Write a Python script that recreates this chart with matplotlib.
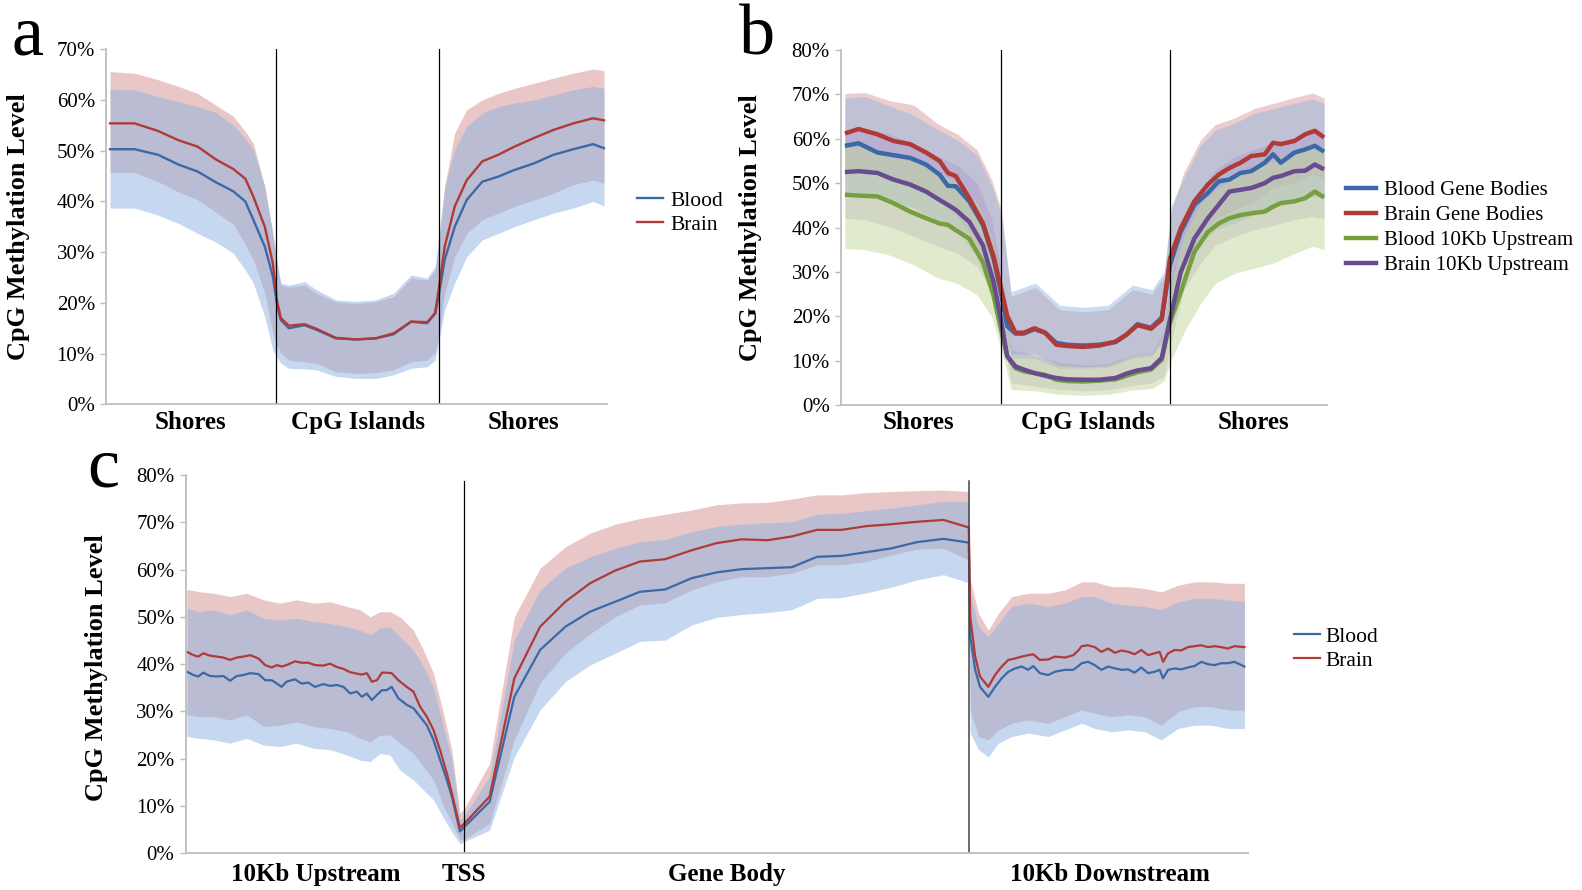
import numpy as np
import matplotlib
matplotlib.use('Agg')
import matplotlib.pyplot as plt
from matplotlib.lines import Line2D

plt.rcParams['font.family'] = ['Liberation Serif', 'DejaVu Serif']

# ---------------- panel a : shores / CpG islands (position = % of axis width)
pos_a = [0.8, 5.7, 10.4, 14.4, 18.3, 21.9, 25.4, 27.8, 29.4, 31.7, 33.3, 34.1, 34.9, 36.5,
         39.6, 42.0, 45.9, 49.9, 53.8, 57.4, 60.9, 64.1, 65.7, 66.5, 67.6, 69.6, 72.0,
         75.1, 78.3, 81.5, 85.4, 89.3, 93.3, 97.2, 99.4]
blood_a = [50.3, 50.3, 49.2, 47.3, 45.9, 43.8, 42.0, 40.0, 36.4, 31.1, 25.2, 19.9, 16.6, 15.0,
           15.6, 14.7, 13.0, 12.8, 13.0, 13.8, 16.3, 16.0, 17.9, 21.9, 28.5, 35.0, 40.3,
           43.9, 44.9, 46.2, 47.5, 49.2, 50.3, 51.3, 50.5]
brain_a = [55.4, 55.4, 53.9, 52.1, 50.8, 48.3, 46.4, 44.5, 41.0, 35.0, 27.8, 20.6, 17.0, 15.5,
           15.8, 14.9, 13.1, 12.8, 13.0, 14.0, 16.3, 16.2, 18.0, 23.2, 31.1, 39.0, 44.2,
           47.9, 49.2, 50.8, 52.5, 54.1, 55.4, 56.4, 56.0]
blood_a_lo = [38.7, 38.7, 37.3, 35.7, 33.7, 32.0, 29.8, 26.5, 23.9, 17.3, 10.7, 9.3, 8.1, 7.1,
              7.0, 6.8, 5.5, 5.1, 5.1, 5.8, 7.1, 7.4, 8.7, 12.7, 18.6, 23.9, 29.1,
              32.4, 33.7, 35.0, 36.4, 37.7, 38.7, 40.0, 39.1]
blood_a_hi = [62.1, 62.0, 60.7, 59.7, 58.7, 57.6, 55.0, 52.5, 50.2, 42.9, 33.7, 27.8, 23.9, 23.5,
              24.2, 22.6, 20.6, 20.3, 20.6, 21.9, 25.5, 24.9, 27.2, 33.7, 42.9, 50.2, 54.8,
              57.4, 58.7, 59.4, 60.0, 61.0, 62.0, 62.7, 62.3]
brain_a_lo = [45.7, 45.7, 43.9, 41.9, 40.3, 37.9, 35.5, 31.5, 28.5, 21.9, 14.0, 11.5, 10.1, 8.7,
              8.4, 8.1, 6.4, 6.1, 6.2, 6.8, 8.4, 8.7, 10.1, 14.0, 21.9, 29.1, 33.7,
              36.4, 37.7, 39.0, 40.3, 41.6, 43.3, 44.2, 43.6]
brain_a_hi = [65.6, 65.3, 64.0, 62.7, 61.3, 59.0, 56.8, 53.8, 51.5, 42.9, 33.7, 28.5, 23.5, 23.1,
              23.5, 21.9, 20.2, 19.9, 20.2, 21.2, 24.9, 24.5, 26.5, 32.4, 42.9, 53.5, 58.1,
              60.0, 61.3, 62.3, 63.3, 64.3, 65.3, 66.1, 65.8]
bounds_a = [33.9, 66.5]

# ---------------- panel b
pos_b = [0.8, 3.6, 7.5, 10.8, 14.2, 17.5, 20.3, 22.0, 23.6, 26.4, 29.2, 31.4, 32.9, 34.2,
         35.9, 37.6, 39.8, 42.0, 44.3, 46.5, 49.8, 53.2, 56.5, 58.8, 61.0, 63.8, 66.0,
         67.7, 69.9, 72.7, 75.5, 77.7, 79.9, 82.2, 84.4, 87.2, 88.9, 90.5, 93.3, 95.5,
         97.5, 99.4]
blood_gb = [58.4, 59.0, 56.9, 56.3, 55.7, 54.2, 51.9, 49.4, 49.3, 45.9, 40.6, 33.0, 25.4, 17.8,
            16.1, 16.1, 17.1, 16.3, 14.0, 13.6, 13.4, 13.6, 14.2, 15.9, 18.2, 17.4, 19.7,
            31.5, 39.0, 45.1, 47.8, 50.4, 50.8, 52.3, 52.7, 54.6, 56.5, 54.6, 56.9, 57.6,
            58.4, 57.1]
brain_gb = [61.2, 62.2, 61.0, 59.5, 58.8, 56.9, 55.0, 52.3, 51.6, 46.6, 41.0, 33.5, 26.5, 20.1,
            16.3, 16.3, 17.3, 16.3, 13.6, 13.3, 13.1, 13.4, 14.3, 15.9, 18.0, 17.2, 19.3,
            33.0, 39.8, 45.9, 49.7, 51.9, 53.4, 54.6, 56.1, 56.5, 59.1, 58.8, 59.5, 61.0,
            61.8, 60.3]
blood_up = [47.4, 47.2, 47.0, 45.5, 43.6, 42.1, 40.9, 40.6, 39.4, 37.5, 32.2, 24.6, 17.1, 11.0,
            8.3, 7.6, 7.2, 6.8, 5.7, 5.4, 5.3, 5.5, 5.8, 6.6, 7.4, 8.0, 10.2,
            18.6, 25.4, 34.5, 39.0, 40.9, 42.1, 42.8, 43.2, 43.6, 44.7, 45.5, 45.9, 46.6,
            48.1, 46.8]
brain_up = [52.5, 52.7, 52.3, 50.8, 49.7, 48.1, 46.2, 45.1, 44.0, 41.3, 36.0, 27.7, 19.3, 11.0,
            8.7, 8.0, 7.2, 6.6, 6.1, 5.8, 5.7, 5.7, 6.1, 7.1, 7.8, 8.3, 10.6,
            19.3, 29.9, 37.5, 42.1, 45.1, 48.1, 48.5, 48.9, 50.0, 51.2, 51.6, 52.7, 52.8,
            54.2, 53.1]
band_pos_b = [0.8, 5, 10, 15, 20, 24, 28, 31, 33, 35, 40, 45, 50, 55, 60, 64, 66.5, 68, 70.5,
              74, 77, 81, 85, 89, 93, 97, 99.4]
blood_gb_hi = [69.2, 69.5, 67.4, 65.3, 62.0, 59.7, 56.3, 49.5, 42.8, 25.5, 27.5, 22.5, 22.0, 22.5,
               27.0, 26.0, 30.0, 45.0, 51.0, 58.5, 61.9, 63.5, 65.7, 66.8, 67.9, 69.0, 68.0]
blood_gb_lo = [47.5, 47.5, 45.7, 44.5, 41.5, 39.0, 33.5, 25.0, 17.5, 10.5, 10.5, 8.3, 8.3, 8.5,
               10.5, 11.0, 14.5, 24.0, 31.0, 36.5, 39.5, 41.0, 43.0, 45.0, 46.0, 47.0, 46.5]
brain_gb_hi = [70.2, 70.4, 68.6, 67.6, 63.3, 61.0, 57.5, 50.8, 44.0, 24.5, 26.5, 21.5, 21.0, 21.5,
               26.0, 25.0, 29.0, 44.0, 52.3, 59.8, 63.2, 64.7, 66.8, 68.0, 69.2, 70.3, 69.2]
brain_gb_lo = [52.5, 53.0, 50.5, 49.5, 46.0, 42.5, 36.0, 27.0, 19.0, 11.5, 11.5, 8.8, 8.6, 8.8,
               11.0, 11.5, 15.0, 25.0, 32.0, 38.0, 42.0, 44.0, 46.0, 49.0, 50.0, 52.0, 51.0]
blood_up_hi = [58.3, 58.3, 56.0, 54.9, 52.3, 50.0, 45.5, 38.0, 27.4, 11.5, 11.0, 9.0, 8.6, 9.0,
               11.0, 11.5, 16.0, 27.4, 38.0, 45.5, 48.5, 51.5, 53.5, 55.0, 57.0, 58.5, 58.3]
blood_up_lo = [35.3, 35.0, 33.8, 31.6, 28.6, 27.4, 24.8, 19.9, 12.4, 3.5, 3.2, 2.4, 2.2, 2.4,
               3.4, 3.7, 5.5, 10.2, 16.2, 22.9, 27.4, 29.7, 30.8, 32.0, 34.0, 35.8, 35.0]
brain_up_hi = [62.0, 62.3, 61.0, 59.0, 56.0, 54.0, 50.0, 42.0, 30.0, 12.5, 11.2, 9.5, 9.0, 9.3,
               11.2, 11.8, 16.5, 30.0, 40.0, 48.5, 53.0, 56.0, 57.6, 59.0, 60.2, 61.7, 61.0]
brain_up_lo = [42.1, 41.7, 40.2, 38.0, 35.7, 34.2, 31.2, 25.9, 17.7, 5.0, 4.2, 3.5, 3.2, 3.4,
               4.4, 5.0, 6.5, 14.7, 25.9, 32.0, 36.0, 38.0, 39.5, 40.5, 41.7, 42.5, 42.0]
bounds_b = [32.9, 67.7]

# ---------------- panel c : upstream (kb), gene body (% of body), downstream (kb)
up_kb = [-9.96, -9.72, -9.55, -9.37, -9.13, -8.89, -8.65, -8.41, -8.17, -7.93, -7.69, -7.39,
         -7.15, -6.91, -6.73, -6.56, -6.38, -6.08, -5.84, -5.60, -5.36, -5.06, -4.82, -4.58,
         -4.34, -4.10, -3.86, -3.68, -3.50, -3.32, -3.14, -2.96, -2.79, -2.61, -2.37, -2.07,
         -1.83, -1.59, -1.35, -1.11, -0.87, -0.63, -0.45, -0.16]
blood_c_up = [38.4, 37.7, 37.4, 38.2, 37.5, 37.4, 37.5, 36.5, 37.5, 37.7, 38.1, 37.9,
              36.6, 36.6, 35.9, 35.2, 36.3, 36.8, 35.9, 36.1, 35.2, 35.8, 35.4, 35.6,
              35.2, 33.8, 34.2, 33.1, 33.8, 32.4, 33.5, 34.5, 34.5, 35.2, 32.8, 31.4,
              30.7, 28.9, 27.1, 24.0, 19.7, 15.5, 12.0, 4.6]
brain_c_up = [42.6, 41.9, 41.6, 42.3, 41.8, 41.6, 41.4, 40.9, 41.4, 41.6, 41.9, 41.2,
              39.8, 39.3, 39.8, 39.5, 39.8, 40.6, 40.3, 40.3, 39.8, 39.7, 40.1, 39.4,
              39.0, 38.3, 38.0, 37.8, 38.1, 36.3, 36.6, 38.2, 38.2, 38.1, 36.6, 35.2,
              34.2, 31.0, 28.9, 26.1, 21.8, 16.9, 12.7, 5.4]
body_pct = [0, 5, 9.9, 15, 20, 24.9, 29.9, 34.8, 39.8, 45.1, 50, 55, 60, 64.9, 69.9, 74.8,
            79.8, 84.7, 89.7, 95, 100]
blood_c_body = [5.6, 10.9, 33.1, 43.0, 47.9, 51.1, 53.2, 55.3, 55.8, 58.2, 59.4, 60.1, 60.3,
                60.5, 62.7, 62.9, 63.7, 64.5, 65.8, 66.5, 65.7]
brain_c_body = [6.3, 12.0, 37.0, 47.9, 53.2, 57.1, 59.8, 61.7, 62.2, 64.1, 65.6, 66.4, 66.2,
                67.0, 68.4, 68.4, 69.2, 69.6, 70.1, 70.5, 68.9]
down_kb = [0.05, 0.23, 0.40, 0.70, 0.94, 1.18, 1.42, 1.66, 1.90, 2.13, 2.31, 2.55, 2.85, 3.09,
           3.45, 3.75, 3.93, 4.05, 4.28, 4.52, 4.76, 5.00, 5.24, 5.48, 5.72, 5.95, 6.19, 6.43,
           6.67, 6.85, 6.97, 7.15, 7.39, 7.62, 7.86, 8.10, 8.34, 8.58, 8.82, 9.06, 9.30, 9.53,
           9.89]
blood_c_down = [45.8, 38.8, 35.2, 33.1, 35.2, 37.0, 38.4, 39.1, 39.5, 38.8, 39.6, 38.1, 37.7,
                38.4, 38.8, 38.8, 39.6, 40.2, 40.5, 39.8, 38.8, 39.5, 39.1, 38.8, 38.9, 38.2,
                39.3, 38.1, 38.4, 38.8, 37.0, 38.8, 39.1, 38.9, 39.3, 39.6, 40.5, 40.0, 39.8,
                40.2, 40.2, 40.5, 39.5]
brain_c_down = [50.0, 41.6, 37.4, 35.2, 37.7, 39.5, 40.9, 41.2, 41.6, 41.9, 42.1, 40.9, 41.0,
                41.6, 41.4, 41.9, 42.9, 43.8, 44.0, 43.6, 42.6, 43.3, 42.4, 42.9, 42.6, 42.1,
                43.0, 41.9, 42.3, 42.6, 40.5, 42.3, 43.0, 42.9, 43.6, 43.8, 44.0, 43.6, 43.8,
                43.6, 43.3, 43.8, 43.6]

band_up_kb = [-9.96, -9.49, -9.01, -8.41, -7.81, -7.21, -6.62, -6.02, -5.42, -4.82, -4.22,
              -3.74, -3.38, -3.03, -2.67, -2.31, -1.83, -1.47, -1.11, -0.75, -0.45, -0.16]
brain_c_up_hi = [55.8, 55.3, 55.0, 54.3, 55.0, 53.6, 52.9, 53.6, 52.9, 53.2, 52.2, 51.5, 50.0,
                 51.1, 51.1, 50.0, 47.2, 43.0, 38.1, 29.6, 21.8, 8.5]
blood_c_up_hi = [51.8, 51.1, 51.5, 50.4, 51.5, 49.7, 49.3, 49.7, 49.0, 48.6, 47.9, 47.2, 46.2,
                 47.6, 47.9, 45.8, 43.0, 39.5, 35.2, 26.8, 19.7, 7.0]
brain_c_up_lo = [29.3, 28.9, 28.9, 28.2, 29.3, 26.8, 27.1, 27.8, 26.8, 26.4, 25.7, 24.3, 23.6,
                 25.0, 25.0, 23.3, 21.1, 18.3, 15.5, 10.0, 6.5, 2.8]
blood_c_up_lo = [24.7, 24.3, 24.0, 23.3, 24.3, 22.9, 22.6, 23.3, 22.2, 21.9, 20.8, 19.7, 19.4,
                 21.1, 20.8, 17.6, 15.5, 13.4, 11.3, 7.5, 4.5, 2.0]
brain_c_body_hi = [9.5, 19.0, 50.0, 60.3, 64.8, 67.7, 69.6, 70.8, 71.7, 72.6, 73.7, 74.1, 74.2,
                   74.9, 75.8, 75.8, 76.3, 76.5, 76.7, 76.8, 76.5]
blood_c_body_hi = [8.0, 16.2, 45.1, 55.7, 60.3, 62.7, 64.5, 65.9, 66.4, 68.0, 69.1, 69.6, 69.9,
                   70.1, 71.7, 71.9, 72.5, 73.0, 73.7, 74.4, 74.4]
brain_c_body_lo = [3.0, 6.3, 24.0, 36.0, 42.3, 46.4, 50.0, 52.5, 53.0, 55.7, 57.4, 58.5, 58.5,
                   59.2, 61.0, 61.0, 61.7, 63.1, 64.3, 64.5, 62.0]
blood_c_body_lo = [2.5, 4.9, 20.4, 30.3, 36.3, 39.8, 42.3, 44.8, 45.1, 48.3, 49.9, 50.5, 50.9,
                   51.5, 53.9, 54.1, 55.1, 56.3, 57.8, 58.9, 57.2]
band_down_kb = [0.05, 0.35, 0.70, 1.06, 1.54, 2.13, 2.85, 3.45, 4.05, 4.52, 5.12, 5.72, 6.31,
                6.91, 7.51, 8.10, 8.70, 9.30, 9.89]
brain_c_down_hi = [57.8, 50.7, 47.2, 50.7, 54.3, 55.0, 55.0, 55.7, 57.4, 57.4, 56.4, 56.4, 56.0,
                   55.3, 56.7, 57.4, 57.4, 57.1, 57.1]
blood_c_down_hi = [55.0, 47.9, 45.8, 48.6, 52.2, 52.9, 52.2, 52.9, 54.3, 54.3, 52.9, 52.5, 52.2,
                   51.5, 53.2, 53.9, 53.9, 53.6, 53.2]
brain_c_down_lo = [30.3, 24.7, 24.0, 26.1, 27.5, 28.2, 27.5, 28.9, 30.3, 29.6, 28.9, 29.3, 28.9,
                   27.1, 29.9, 31.0, 31.0, 30.3, 30.3]
blood_c_down_lo = [25.4, 21.9, 20.4, 23.3, 24.7, 25.4, 24.7, 26.1, 27.5, 26.4, 25.7, 26.1, 25.7,
                   24.0, 26.4, 27.1, 27.1, 26.4, 26.4]

# colours
BLUE = '#3B69A6'
RED = '#B03A36'
GREEN = '#76A03F'
PURPLE = '#684B91'
BLUE_F = '#8DB3E1'
RED_F = '#D59191'
GREEN_F = '#C3D69B'
PURPLE_F = '#A792C6'
SPINE = '#BDBDBD'

# widths of the three panel-c sections in axis units (upstream = 10 kb)
W_UP, W_BODY, W_DOWN = 10.0, 18.1, 10.02


def c_x(up, body, down):
    return np.concatenate([np.array(up) + W_UP,
                           W_UP + np.array(body) / 100 * W_BODY,
                           W_UP + W_BODY + np.array(down)])


def style(ax, ymax, xmax):
    ax.set_xlim(0, xmax)
    ax.set_ylim(0, ymax)
    ax.set_yticks(np.arange(0, ymax + 1, 10))
    ax.yaxis.set_major_formatter(lambda v, p: f'{v:.0f}%')
    ax.set_xticks([])
    for s in ['top', 'right']:
        ax.spines[s].set_visible(False)
    for s in ['left', 'bottom']:
        ax.spines[s].set_color(SPINE)
        ax.spines[s].set_linewidth(1.3)
    ax.tick_params(axis='y', length=4, width=1, color=SPINE, labelsize=15, pad=4)
    ax.set_ylabel('CpG Methylation Level', fontsize=19, fontweight='bold')


def cat_labels(ax, xs, labels, y):
    for x, lab in zip(xs, labels):
        ax.text(x, y, lab, transform=ax.get_xaxis_transform(), ha='center', va='center',
                fontsize=18, fontweight='bold')


fig = plt.figure(figsize=(15.82, 8.90), dpi=100)
ax_a = fig.add_axes([0.0670, 0.5457, 0.3167, 0.3989])
ax_b = fig.add_axes([0.5316, 0.5449, 0.3072, 0.3989])
ax_c = fig.add_axes([0.1174, 0.0412, 0.6715, 0.4251])

# ---- a
ax_a.fill_between(pos_a, brain_a_lo, brain_a_hi, color=RED_F, alpha=0.5, lw=0)
ax_a.fill_between(pos_a, blood_a_lo, blood_a_hi, color=BLUE_F, alpha=0.5, lw=0)
ax_a.plot(pos_a, blood_a, color=BLUE, lw=1.7)
ax_a.plot(pos_a, brain_a, color=RED, lw=1.7)
for b in bounds_a:
    ax_a.axvline(b, color='black', lw=0.9)
style(ax_a, 70, 100)
ax_a.yaxis.set_label_coords(-0.152, 0.5)
cat_labels(ax_a, [bounds_a[0] / 2, sum(bounds_a) / 2, (bounds_a[1] + 100) / 2],
           ['Shores', 'CpG Islands', 'Shores'], -0.05)
ax_a.legend([Line2D([], [], color=BLUE, lw=1.7), Line2D([], [], color=RED, lw=1.7)],
            ['Blood', 'Brain'], loc='center left', bbox_to_anchor=(0.396, 0.761),
            bbox_transform=fig.transFigure, frameon=False, fontsize=15.5,
            handlelength=1.2, handletextpad=0.35, labelspacing=0.2, borderpad=0)

# ---- b
ax_b.fill_between(band_pos_b, brain_gb_lo, brain_gb_hi, color=RED_F, alpha=0.45, lw=0)
ax_b.fill_between(band_pos_b, blood_gb_lo, blood_gb_hi, color=BLUE_F, alpha=0.45, lw=0)
ax_b.fill_between(band_pos_b, brain_up_lo, brain_up_hi, color=PURPLE_F, alpha=0.35, lw=0)
ax_b.fill_between(band_pos_b, blood_up_lo, blood_up_hi, color=GREEN_F, alpha=0.5, lw=0)
series_b = [(blood_gb, BLUE, 'Blood Gene Bodies'), (brain_gb, RED, 'Brain Gene Bodies'),
            (blood_up, GREEN, 'Blood 10Kb Upstream'), (brain_up, PURPLE, 'Brain 10Kb Upstream')]
for vals, col, lab in [series_b[2], series_b[3], series_b[0], series_b[1]]:
    ax_b.plot(pos_b, vals, color=col, lw=3.2, solid_capstyle='butt')
for b in bounds_b:
    ax_b.axvline(b, color='black', lw=0.9)
style(ax_b, 80, 100)
ax_b.yaxis.set_label_coords(-0.163, 0.5)
cat_labels(ax_b, [bounds_b[0] / 2 - 0.5, sum(bounds_b) / 2 + 0.5, (bounds_b[1] + 100) / 2 + 1],
           ['Shores', 'CpG Islands', 'Shores'], -0.05)
ax_b.legend([Line2D([], [], color=c, lw=3.2) for _, c, _ in series_b],
            [l for _, _, l in series_b], loc='center left', bbox_to_anchor=(0.8445, 0.744),
            bbox_transform=fig.transFigure, frameon=False, fontsize=15,
            handlelength=1.4, handletextpad=0.42, labelspacing=0.27, borderpad=0)

# ---- c
xc_line = c_x(up_kb, body_pct, down_kb)
xc_band = c_x(band_up_kb, body_pct, band_down_kb)
brain_c_hi = brain_c_up_hi + brain_c_body_hi + brain_c_down_hi
brain_c_lo = brain_c_up_lo + brain_c_body_lo + brain_c_down_lo
blood_c_hi = blood_c_up_hi + blood_c_body_hi + blood_c_down_hi
blood_c_lo = blood_c_up_lo + blood_c_body_lo + blood_c_down_lo
ax_c.fill_between(xc_band, brain_c_lo, brain_c_hi, color=RED_F, alpha=0.5, lw=0)
ax_c.fill_between(xc_band, blood_c_lo, blood_c_hi, color=BLUE_F, alpha=0.5, lw=0)
ax_c.plot(xc_line, blood_c_up + blood_c_body + blood_c_down, color=BLUE, lw=1.6)
ax_c.plot(xc_line, brain_c_up + brain_c_body + brain_c_down, color=RED, lw=1.6)
ax_c.axvline(W_UP, ymax=0.985, color='black', lw=0.9)
ax_c.axvline(W_UP + W_BODY, ymax=0.985, color='#444444', lw=1.1)
style(ax_c, 80, W_UP + W_BODY + W_DOWN)
ax_c.yaxis.set_label_coords(-0.073, 0.49)
cat_labels(ax_c, [W_UP * 0.465, W_UP, W_UP + W_BODY * 0.52, W_UP + W_BODY + W_DOWN * 0.505],
           ['10Kb Upstream', 'TSS', 'Gene Body', '10Kb Downstream'], -0.055)
ax_c.legend([Line2D([], [], color=BLUE, lw=1.6), Line2D([], [], color=RED, lw=1.6)],
            ['Blood', 'Brain'], loc='center left', bbox_to_anchor=(0.811, 0.271),
            bbox_transform=fig.transFigure, frameon=False, fontsize=15.5,
            handlelength=1.2, handletextpad=0.25, labelspacing=0.2, borderpad=0)

# panel letters
fig.text(27 / 1582, 1 - 37 / 890, 'a', fontsize=52, ha='center', va='center')
fig.text(757 / 1582, 1 - 37 / 890, 'b', fontsize=52, ha='center', va='center')
fig.text(103 / 1582, 1 - 469 / 890, 'c', fontsize=52, ha='center', va='center')

fig.savefig('out.png', dpi=100)
